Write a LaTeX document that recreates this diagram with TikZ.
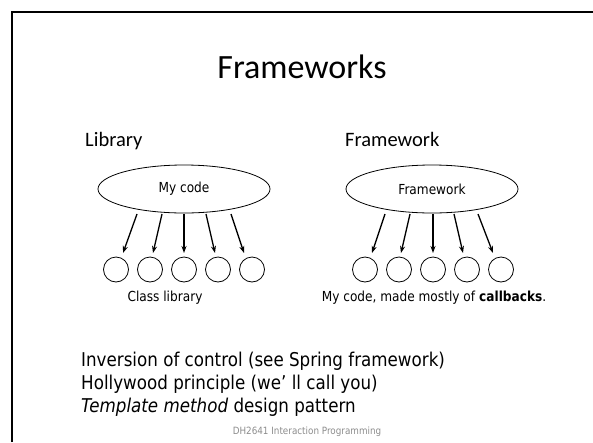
\documentclass[tikz,border=0pt]{standalone}
\usepackage{fontspec}
\setmainfont{DejaVu Sans}[FakeStretch=0.88]
\newfontfamily\titlefont{Carlito}
\usetikzlibrary{arrows.meta,shapes.geometric}
\begin{document}
\begin{tikzpicture}[x=1pt,y=-1pt,
  lbl/.style={inner sep=0pt},
  head/.style={lbl,anchor=base west,font=\titlefont\fontsize{20.5}{24}\selectfont},
  note/.style={lbl,anchor=base west,font=\fontsize{19}{22}\selectfont},
  small/.style={font=\fontsize{13.8}{16}\selectfont},
  blob/.style={draw,ellipse,line width=0.8pt,minimum width=172pt,minimum height=48pt,inner sep=0pt,small},
  ball/.style={draw,circle,line width=0.8pt,minimum size=25pt,inner sep=0pt},
  call/.style={-{Stealth[length=7pt,width=5pt]},line width=1.3pt}]
\useasboundingbox (0,0) rectangle (593,442);
% slide frame
\draw[line width=1.8pt] (12,442) -- (12,12) -- (593,12);
% title
\node[lbl,anchor=base,font=\titlefont\fontsize{34}{40}\selectfont] (title) at (302,78) {Frameworks};
% column headers
\node[head] (hlib) at (85,146) {Library};
\node[head] (hfw) at (345,146) {Framework};
% library side
\node[blob] (mycode) at (184,189) {My code};
\foreach \i/\x in {1/116,2/150,3/184,4/218,5/252}
  \node[ball] (l\i) at (\x,269.5) {};
\foreach \i/\sx/\ex in {1/137/123,2/162/153,3/184/184,4/206/215,5/231/244}{
  \coordinate (ls\i) at (\sx,214);
  \coordinate (le\i) at (\ex,253);
  \draw[call] (ls\i) -- (le\i);
}
\node[lbl,small] (clib) at (165,298) {Class library};
% framework side
\node[blob] (fw) at (432,189) {Framework};
\foreach \i/\x in {1/365,2/399,3/433,4/467,5/501}
  \node[ball] (r\i) at (\x,269.5) {};
\foreach \i/\sx/\ex in {1/385/372,2/410/401,3/433/433,4/454/463,5/478/493}{
  \coordinate (rs\i) at (\sx,214);
  \coordinate (re\i) at (\ex,253);
  \draw[call] (rs\i) -- (re\i);
}
\node[lbl,small] (cb) at (434,298) {My code, made mostly of \textbf{callbacks}.};
% notes
\node[note] (n1) at (81,366) {Inversion of control (see Spring framework)};
\node[note] (n2) at (81,389) {Hollywood principle (we’ ll call you)};
\node[note] (n3) at (81,412) {\textit{Template method} design pattern};
% footer
\node[lbl,text=black!45,font=\fontsize{10}{12}\selectfont] (foot) at (307,432) {DH2641 Interaction Programming};
\end{tikzpicture}
\end{document}
